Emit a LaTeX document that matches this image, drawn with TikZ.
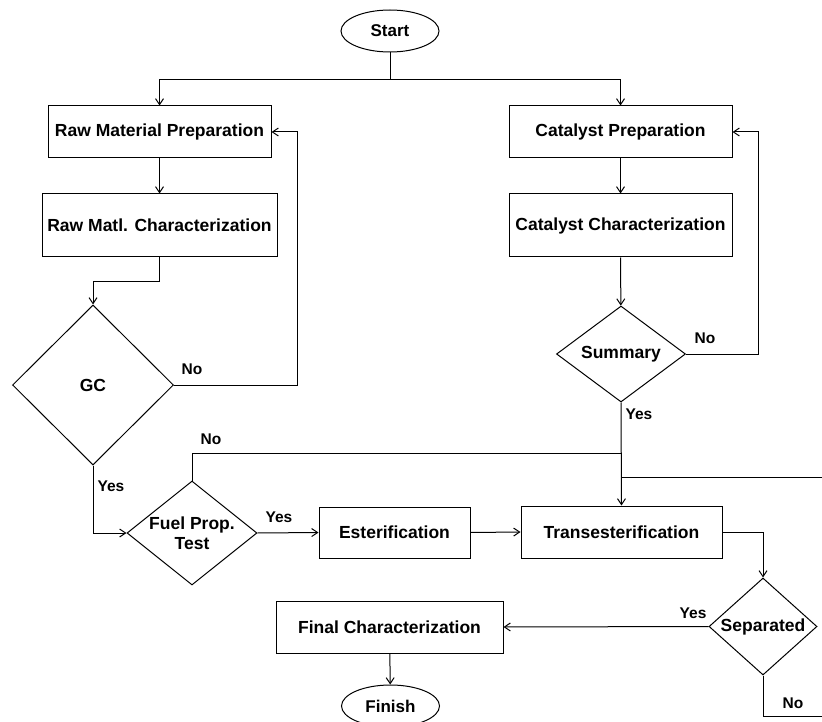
\documentclass[tikz,border=0pt]{standalone}
\usepackage{fontspec}
\setmainfont{Liberation Sans}
\usetikzlibrary{shapes.geometric,arrows.meta}

\begin{document}
\begin{tikzpicture}[x=1pt, y=-1pt, line width=1pt,
  box/.style={draw, rectangle, inner sep=0pt, font=\fontsize{17.5}{19}\selectfont\bfseries},
  term/.style={draw, ellipse, inner sep=0pt, minimum width=98pt, minimum height=42pt,
    font=\fontsize{17}{18}\selectfont\bfseries},
  decide/.style={draw, diamond, inner sep=0pt, align=center,
    font=\fontsize{17.5}{20}\selectfont\bfseries},
  lbl/.style={inner sep=0pt, font=\fontsize{15.5}{17}\selectfont\bfseries},
  arr/.style={-{Straight Barb[length=6pt,width=8pt]}}]
\useasboundingbox (0,0) rectangle (822,722);
\clip (0,0) rectangle (822,722);
% start
\node[term] (start) at (390,31) {Start};
\coordinate (split) at (390,80);
% left column
\node[box, minimum width=223pt, minimum height=52pt] (rawprep) at (159.5,132) {Raw Material Preparation};
\node[box, minimum width=235pt, minimum height=63pt] (rawchar) at (159.5,225.5) {Raw Matl. Characterization};
\node[decide, minimum width=161pt, minimum height=160pt] (gc) at (93,385) {GC};
% right column
\node[box, minimum width=223pt, minimum height=52pt] (catprep) at (620.5,132) {Catalyst Preparation};
\node[box, minimum width=223pt, minimum height=63pt] (catchar) at (620.5,225.5) {Catalyst Characterization};
\node[decide, shape aspect=1.34, minimum width=129pt, minimum height=96pt] (summary) at (621,354) {Summary};
% bottom row
\node[decide, shape aspect=1.25, inner sep=-10pt, minimum width=130pt, minimum height=104pt] (fuel) at (192,533) {Fuel Prop.\\Test};
\node[box, minimum width=151pt, minimum height=51pt] (ester) at (394.5,532.5) {Esterification};
\node[box, minimum width=201pt, minimum height=52pt] (trans) at (621.5,532) {Transesterification};
\node[decide, shape aspect=1.11, inner sep=-4pt, minimum width=108pt, minimum height=97pt] (sep) at (763,626.5) {Separated};
\node[box, minimum width=227pt, minimum height=52pt] (finalchar) at (389.5,627) {Final Characterization};
\node[term] (finish) at (390.5,706) {Finish};
\coordinate (joinA) at (621.5,453);
\coordinate (joinB) at (621.5,477);
\coordinate (loopin) at (822,477);
\coordinate (sepout) at (822,716);
% flow
\draw (start) -- (split);
\draw[arr] (split) -| (rawprep.north);
\draw[arr] (split) -| (catprep.north);
\draw[arr] (rawprep) -- (rawchar);
\draw[arr] (rawchar.south) -- ++(0,24) -| (gc.north);
\draw[arr] (gc.east) -- ++(123,0) |- (rawprep.east);
\draw[arr] (catprep) -- (catchar);
\draw[arr] (catchar) -- (summary);
\draw[arr] (summary.east) -- ++(72,0) |- (catprep.east);
\draw[arr] (summary.south) -- (trans.north);
\draw[arr] (gc.south) |- (fuel.west);
\draw (fuel.north) |- (joinA);
\draw (loopin) -- (joinB);
\draw[arr] (fuel.east) -- (ester.west);
\draw[arr] (ester.east) -- (trans.west);
\draw[arr] (trans.east) -| (sep.north);
\draw[arr] (sep.west) -- (finalchar.east);
\draw[arr] (finalchar) -- (finish);
\draw (sep.south) |- (sepout);
% labels
\node[lbl] (gcno) at (192,369) {No};
\node[lbl] (gcyes) at (111,486) {Yes};
\node[lbl] (sumno) at (705,338) {No};
\node[lbl] (sumyes) at (639,414) {Yes};
\node[lbl] (fuelno) at (211,439) {No};
\node[lbl] (fuelyes) at (279,517) {Yes};
\node[lbl] (sepyes) at (693,613) {Yes};
\node[lbl] (sepno) at (793,703) {No};
\end{tikzpicture}
\end{document}
